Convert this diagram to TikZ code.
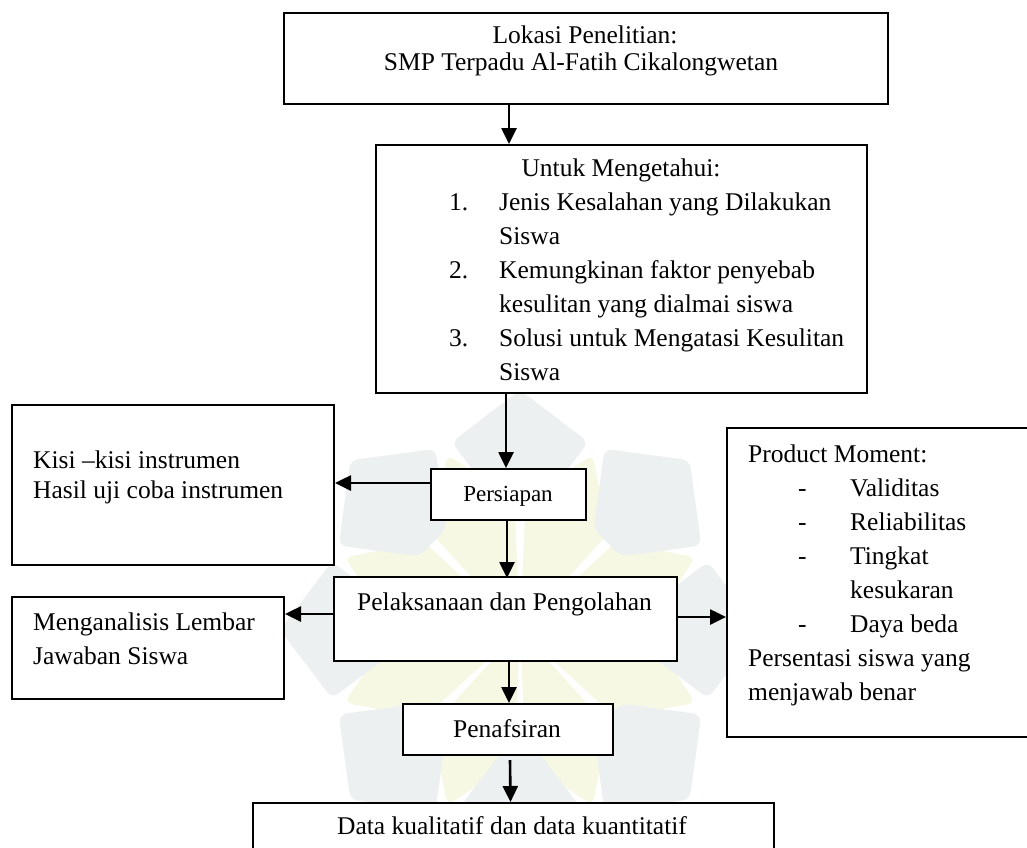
\documentclass[tikz,border=0pt]{standalone}
\usepackage{fontspec}
\setmainfont{Liberation Serif}
\usetikzlibrary{arrows.meta,calc}
\definecolor{wmgray}{HTML}{ECF0F1}
\definecolor{wmyellow}{HTML}{F6F8E4}
\tikzset{
  box/.style={draw, fill=white, line width=2pt, inner sep=0pt, anchor=north west},
  tx/.style={inner sep=0pt, anchor=base west, font=\fontsize{25.5}{30}\selectfont},
  txc/.style={tx, anchor=base},
  small/.style={font=\fontsize{23}{28}\selectfont},
  arr/.style={line width=2.6pt, -{Triangle[length=16pt,width=15pt]}},
  petal/.style={fill=wmgray, rounded corners=8pt},
  inner/.style={fill=wmyellow, rounded corners=8pt},
}
\begin{document}
\begin{tikzpicture}[x=1pt,y=-1pt]
\useasboundingbox (0,0) rectangle (1027,847);
\clip (0,0) rectangle (1027,847);
% faint watermark
\begin{scope}[shift={(520,630)}]
  \foreach \a in {22.5,67.5,...,360}
    \fill[inner] (0,0) -- (\a-20:130) -- (\a:190) -- (\a+20:130) -- cycle;
  \foreach \a in {0,45,...,315}
    \fill[petal] (\a-9:125) -- (\a-20:200) -- (\a:240) -- (\a+20:200) -- (\a+9:125) -- cycle;
\end{scope}
% boxes
\node[box, minimum width=604pt, minimum height=91pt]  (top)    at (283,12)  {};
\node[box, minimum width=491pt, minimum height=248pt] (know)   at (375,144) {};
\node[box, minimum width=322pt, minimum height=160pt] (kisi)   at (11,404)  {};
\node[box, minimum width=155pt, minimum height=51pt]  (prep)   at (430,468) {};
\node[box, minimum width=343pt, minimum height=84pt]  (exec)   at (333,576) {};
\node[box, minimum width=272pt, minimum height=102pt] (anal)   at (11,596)  {};
\node[box, minimum width=334pt, minimum height=309pt] (prod)   at (726,427) {};
\node[box, minimum width=210pt, minimum height=51pt]  (interp) at (402,703) {};
\node[box, minimum width=521pt, minimum height=78pt]  (data)   at (252,802) {};
% texts
\node[txc] (l1) at (585,43) {Lokasi Penelitian:};
\node[txc] (l2) at (581,70) {SMP Terpadu Al-Fatih Cikalongwetan};
\node[txc] (k0) at (621,176) {Untuk Mengetahui:};
\node[tx] (n1) at (449,210) {1.};
\node[tx] (k1) at (499,210) {Jenis Kesalahan yang Dilakukan};
\node[tx] (k2) at (499,244) {Siswa};
\node[tx] (n2) at (449,278) {2.};
\node[tx] (k3) at (499,278) {Kemungkinan faktor penyebab};
\node[tx] (k4) at (499,312) {kesulitan yang dialmai siswa};
\node[tx] (n3) at (449,346) {3.};
\node[tx] (k5) at (499,346) {Solusi untuk Mengatasi Kesulitan};
\node[tx] (k6) at (499,380) {Siswa};
\node[tx] (s1) at (33,468) {Kisi –kisi instrumen};
\node[tx] (s2) at (33,498) {Hasil uji coba instrumen};
\node[tx] (a1) at (33,630) {Menganalisis Lembar};
\node[tx] (a2) at (33,664) {Jawaban Siswa};
\node[txc, small] (pt) at (508,501) {Persiapan};
\node[txc] (et) at (504.5,610) {Pelaksanaan dan Pengolahan};
\node[txc] (it) at (507,737) {Penafsiran};
\node[txc] (dt) at (512,834) {Data kualitatif dan data kuantitatif};
\node[tx] (p0) at (748,462) {Product Moment:};
\node[tx] (d1) at (798,496) {-};
\node[tx] (p1) at (850,496) {Validitas};
\node[tx] (d2) at (798,530) {-};
\node[tx] (p2) at (850,530) {Reliabilitas};
\node[tx] (d3) at (798,564) {-};
\node[tx] (p3) at (850,564) {Tingkat};
\node[tx] (p4) at (850,598) {kesukaran};
\node[tx] (d5) at (798,632) {-};
\node[tx] (p5) at (850,632) {Daya beda};
\node[tx] (p6) at (748,666) {Persentasi siswa yang};
\node[tx] (p7) at (748,700) {menjawab benar};
% connectors
\draw[arr] ([xshift=-77pt]top.south) -- ([xshift=-112.5pt]know.north);
\draw[arr] ([xshift=-115.5pt]know.south) -- ([xshift=-2.5pt]prep.north);
\coordinate (c1) at ([yshift=11.5pt]prep.west);
\draw[arr] (c1) -- (c1 -| kisi.east);
\coordinate (c4) at ([xshift=-1.5pt]prep.south);
\draw[arr] (c4) -- ([yshift=-2pt]c4 |- exec.north);
\coordinate (c2) at ([yshift=5pt]exec.west);
\draw[arr] (c2) -- (c2 -| anal.east);
\coordinate (c3) at ([yshift=2pt]exec.east);
\draw[arr] (c3) -- (c3 -| prod.west);
\draw[arr] ([xshift=3.5pt]exec.south) -- ([xshift=1pt]interp.north);
\draw[arr] ([xshift=2pt,yshift=-4pt]interp.south) -- ([xshift=-3pt]data.north);
\end{tikzpicture}
\end{document}
